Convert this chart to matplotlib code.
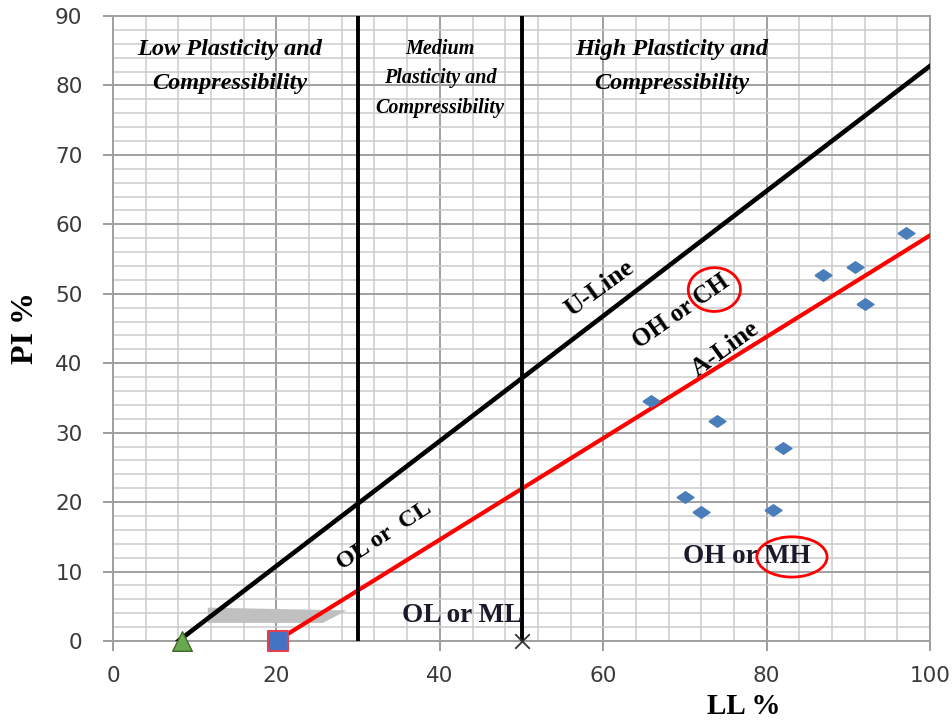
import numpy as np
import matplotlib.pyplot as plt
from matplotlib.patches import Ellipse, Polygon

# measured soil samples (LL, PI)
ll_samples = [65.8, 73.9, 82.0, 70.0, 72.0, 80.8, 86.9, 90.8, 92.0, 97.0]
pi_samples = [34.6, 31.7, 27.8, 20.7, 18.5, 18.9, 52.7, 53.8, 48.5, 58.7]

# chart lines
u_line_ll = [8, 100]
u_line_pi = [0, 82.8]
a_line_ll = [20, 100]
a_line_pi = [0, 58.4]
bounds_ll = [30, 50]

# shaded CL-ML band
band_ll = [11.6, 28.6, 25.7, 11.6]
band_pi = [4.8, 4.4, 2.6, 2.6]

serif = 'Liberation Serif'

fig = plt.figure(figsize=(9.53, 7.25), dpi=100)
ax = fig.add_axes([0.1186, 0.1159, 0.8573, 0.8621])

ax.set_xlim(0, 100)
ax.set_ylim(0, 90)
ax.set_xticks(np.arange(0, 101, 20))
ax.set_yticks(np.arange(0, 91, 10))
ax.set_xticks(np.arange(0, 101, 4), minor=True)
ax.set_yticks(np.arange(0, 91, 2), minor=True)
ax.grid(which='major', color='#a0a0a0', lw=1.4)
ax.grid(which='minor', color='#cbcbcb', lw=1.1)
ax.set_axisbelow(True)
ax.tick_params(which='major', length=7, width=1.2, color='#8c8c8c', labelsize=15.5,
               labelcolor='#3a3a3a')
ax.tick_params(axis='x', pad=11)
ax.tick_params(axis='y', pad=15)
ax.tick_params(which='minor', length=0)
for s in ax.spines.values():
    s.set_color('#a0a0a0')
    s.set_linewidth(1.4)

# shaded band
ax.add_patch(Polygon(list(zip(band_ll, band_pi)), closed=True,
                     fc='#c0c0c0', ec='none', zorder=2))

ax.plot(u_line_ll, u_line_pi, color='black', lw=3.3, zorder=3)
ax.plot(a_line_ll, a_line_pi, color='#ff0000', lw=3, zorder=3)
for b in bounds_ll:
    ax.plot([b, b], [0, 90], color='black', lw=2.8, zorder=3)

diamond = [(-1, 0), (0, 0.68), (1, 0), (0, -0.68), (-1, 0)]
ax.scatter(ll_samples, pi_samples, marker=diamond, s=150, color='#4a7ebb', zorder=4)
ax.scatter([8.5], [0], marker='^', s=200, color='#6aa84f', edgecolor='#3d6b25',
           zorder=5, clip_on=False)
ax.scatter([20.2], [0], marker='s', s=220, color='#4472c4', edgecolor='#e04050',
           lw=1.5, zorder=5, clip_on=False)
ax.scatter([50], [0], marker='x', s=110, color='#333333', lw=1.3, zorder=5,
           clip_on=False)

# region titles
ax.text(14.3, 82.7, 'Low Plasticity and\nCompressibility', ha='center', va='center',
        family=serif, style='italic', weight='bold', fontsize=17.5, linespacing=1.85)
ax.text(40, 81.0, 'Medium\nPlasticity and\nCompressibility', ha='center', va='center',
        family=serif, style='italic', weight='bold', fontsize=14.5, linespacing=1.62)
ax.text(68.4, 82.7, 'High Plasticity and\nCompressibility', ha='center', va='center',
        family=serif, style='italic', weight='bold', fontsize=17.5, linespacing=1.85)

# zone labels
ax.text(59.6, 50.7, 'U-Line', rotation=36, ha='center', va='center',
        family=serif, weight='bold', fontsize=19)
ax.text(69.5, 47.5, 'OH or CH', rotation=35, ha='center', va='center',
        family=serif, weight='bold', fontsize=18)
ax.text(75.0, 42.1, 'A-Line', rotation=36, ha='center', va='center',
        family=serif, weight='bold', fontsize=18.5)
ax.text(33.2, 15.1, 'OL or  CL', rotation=33, ha='center', va='center',
        family=serif, weight='bold', fontsize=17.5)
ax.text(42.7, 3.7, 'OL or ML', ha='center', va='center',
        family=serif, weight='bold', fontsize=19.5, color='#1a1a2a')
ax.text(77.6, 12.1, 'OH or MH', ha='center', va='center',
        family=serif, weight='bold', fontsize=19.5, color='#1a1a2a')

ax.add_patch(Ellipse((73.6, 50.6), 6.4, 6.3, angle=15, fc='none',
                     ec='#ff0000', lw=2, zorder=6))
ax.add_patch(Ellipse((83.1, 12.1), 8.6, 5.8, fc='none',
                     ec='#ff0000', lw=2, zorder=6))

ax.set_xlabel('LL %', family=serif, weight='bold', fontsize=21)
ax.xaxis.set_label_coords(0.772, -0.083)
ax.set_ylabel('PI %', family=serif, weight='bold', fontsize=23)
ax.yaxis.set_label_coords(-0.089, 0.50)

fig.savefig('out.png', dpi=100)
